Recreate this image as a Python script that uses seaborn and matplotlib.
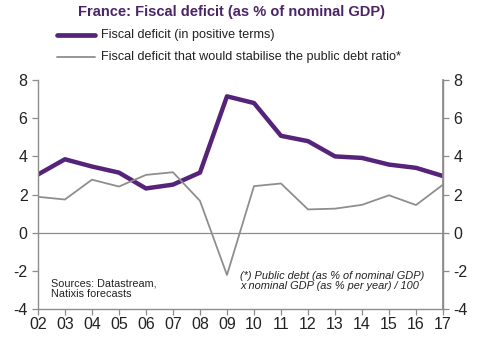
import matplotlib
matplotlib.use("Agg")
import matplotlib.pyplot as plt
import seaborn as sns
import pandas as pd

years = ["02", "03", "04", "05", "06", "07", "08", "09", "10", "11", "12", "13", "14", "15", "16", "17"]
fiscal_deficit = [3.05, 3.85, 3.47, 3.15, 2.32, 2.52, 3.15, 7.15, 6.8, 5.08, 4.8, 4.0, 3.92, 3.57, 3.4, 2.97]
stabilising_deficit = [1.88, 1.74, 2.78, 2.42, 3.03, 3.17, 1.67, -2.22, 2.44, 2.58, 1.22, 1.26, 1.46, 1.96, 1.45, 2.52]
yticks = [-4, -2, 0, 2, 4, 6, 8]
name1 = "Fiscal deficit (in positive terms)"
name2 = "Fiscal deficit that would stabilise the public debt ratio*"

sns.set_theme(style="white")
plt.rcParams['font.family'] = ['Liberation Sans', 'DejaVu Sans']

purple = "#55247A"
grey = "#8E8E8E"
axis_col = "#8C8C8C"

df = pd.DataFrame({
    "x": list(range(len(years))) * 2,
    "value": fiscal_deficit + stabilising_deficit,
    "series": [name1] * len(years) + [name2] * len(years),
})

fig = plt.figure(figsize=(4.8, 3.41), dpi=100)
ax = fig.add_axes([0.079, 0.094, 0.844, 0.671])

sns.lineplot(data=df, x="x", y="value", hue="series", size="series",
             palette={name1: purple, name2: grey},
             sizes={name1: 3.2, name2: 1.3}, ax=ax, legend=False)

ax.axhline(0, color=axis_col, lw=0.9, zorder=0)
ax.set_xlim(0, len(years) - 1)
ax.set_ylim(-4, 8)
ax.set_yticks(yticks)
ax.set_yticklabels([str(t) for t in yticks])
ax.set_xticks(range(len(years)))
ax.set_xticklabels(years)
ax.set_xlabel("")
ax.set_ylabel("")
for s in ["top"]:
    ax.spines[s].set_visible(False)
for s in ["left", "right", "bottom"]:
    ax.spines[s].set_color(axis_col)
    ax.spines[s].set_linewidth(1.0)
ax.tick_params(axis="both", which="both", length=4, width=0.9, color=axis_col,
               labelsize=11.5, labelcolor="#222222", direction="out", bottom=True, left=True)
ax.tick_params(axis="x", pad=2)

ax2 = ax.twinx()
ax2.set_ylim(-4, 8)
ax2.set_yticks(yticks)
ax2.set_yticklabels([str(t) for t in yticks])
for s in ["top", "left", "bottom"]:
    ax2.spines[s].set_visible(False)
ax2.spines["right"].set_color(axis_col)
ax2.tick_params(axis="y", length=4, width=0.9, color=axis_col, labelsize=11.5,
                labelcolor="#222222", direction="out", right=True)
ax2.grid(False)
ax.grid(False)

fig.text(0.483, 0.965, "France: Fiscal deficit (as % of nominal GDP)", ha="center", va="center",
         fontsize=10.5, fontweight="bold", color="#4B2466")

# legend
fig.add_artist(plt.Line2D([57 / 480, 95 / 480], [1 - 35 / 341, 1 - 35 / 341], color=purple, lw=3.4,
                          solid_capstyle="round"))
fig.add_artist(plt.Line2D([57 / 480, 95 / 480], [1 - 57 / 341, 1 - 57 / 341], color=grey, lw=1.3))
fig.text(101 / 480, 1 - 35 / 341, name1, va="center", ha="left", fontsize=9.1, color="#222222")
fig.text(101 / 480, 1 - 57 / 341, name2, va="center", ha="left", fontsize=9.1, color="#222222")

ax.text(51 / 480, 1 - 289 / 341, "Sources: Datastream,\nNatixis forecasts", transform=fig.transFigure,
        fontsize=7.8, va="center", ha="left", color="#222222", linespacing=1.1)
ax.text(240 / 480, 1 - 281 / 341, "(*) Public debt (as % of nominal GDP)\nx nominal GDP (as % per year) / 100",
        transform=fig.transFigure, fontsize=7.95, va="center", ha="left", style="italic",
        color="#222222", linespacing=1.1)

fig.savefig("out.png", dpi=100)
